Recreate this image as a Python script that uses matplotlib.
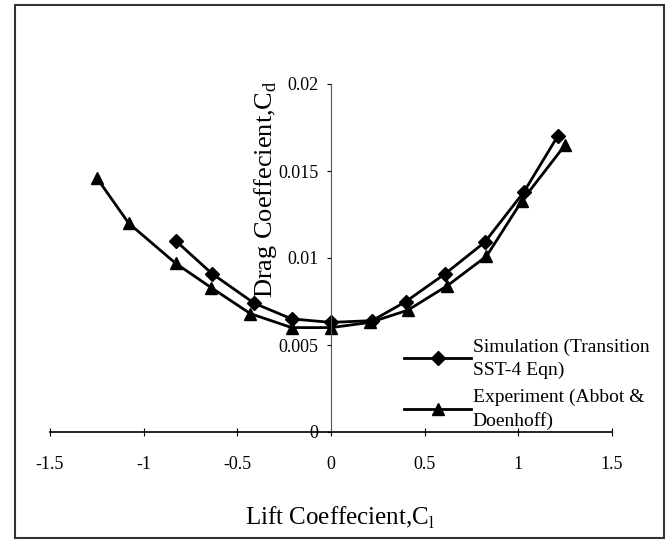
import matplotlib.pyplot as plt
from matplotlib.patches import Rectangle

plt.rcParams['font.family'] = ['Liberation Serif', 'DejaVu Serif']

# Simulation (Transition SST-4 Eqn)
sim_cl = [-0.83, -0.635, -0.41, -0.21, 0.0, 0.22, 0.40, 0.61, 0.82, 1.03, 1.21]
sim_cd = [0.0110, 0.0091, 0.0074, 0.0065, 0.0063, 0.0064, 0.0075, 0.0091, 0.0109, 0.0138, 0.0170]

# Experiment (Abbot & Doenhoff)
exp_cl = [-1.25, -1.08, -0.83, -0.64, -0.43, -0.21, 0.0, 0.21, 0.41, 0.62, 0.83, 1.02, 1.25]
exp_cd = [0.0146, 0.0120, 0.0097, 0.0083, 0.0068, 0.0060, 0.0060, 0.0063, 0.0070, 0.0084, 0.0101, 0.0133, 0.0165]

fig = plt.figure(figsize=(6.66, 5.47), dpi=100)
ax = fig.add_axes([50 / 666, 1 - 432 / 547, 562 / 666, 348 / 547])

ax.plot(sim_cl, sim_cd, color="black", lw=2, marker="D", ms=7,
        label="Simulation (Transition\nSST-4 Eqn)")
ax.plot(exp_cl, exp_cd, color="black", lw=2, marker="^", ms=9,
        label="Experiment (Abbot &\nDoenhoff)")

ax.set_xlim(-1.5, 1.5)
ax.set_ylim(0, 0.02)
ax.set_xticks([-1.5, -1, -0.5, 0, 0.5, 1, 1.5])
ax.set_xticklabels(["-1.5", "-1", "-0.5", "0", "0.5", "1", "1.5"])
ax.set_yticks([0, 0.005, 0.01, 0.015, 0.02])
ax.set_yticklabels(["0", "0.005", "0.01", "0.015", "0.02"])

# axes cross at the origin
ax.spines["left"].set_position(("data", 0))
ax.spines["right"].set_visible(False)
ax.spines["top"].set_visible(False)
ax.spines["left"].set_color("#555555")
ax.spines["bottom"].set_linewidth(1.2)
ax.tick_params(axis="x", direction="inout", length=6, labelsize=13, pad=14)
ax.tick_params(axis="y", direction="out", length=3, labelsize=13, pad=6)

ax.text(-0.35, 0.0202, "Drag Coeffecient,C$_\\mathregular{d}$", rotation=90,
        ha="center", va="top", fontsize=19, transform=ax.transData)
fig.text(340 / 666, 1 - 518 / 547, "Lift Coeffecient,C$_\\mathregular{l}$",
         ha="center", va="center", fontsize=18)

leg = ax.legend(loc="upper left", bbox_to_anchor=(387 / 666, 1 - 321 / 547),
                bbox_transform=fig.transFigure, frameon=False, fontsize=14,
                handlelength=3.4, handletextpad=0.1, labelspacing=0.5)
for t in leg.get_texts():
    t.set_linespacing(1.45)

fig.patches.append(Rectangle((15 / 666, 1 - 538 / 547), 649 / 666, 533 / 547,
                             transform=fig.transFigure, fill=False,
                             edgecolor="#333333", lw=1.5))

fig.savefig("out.png", dpi=100)
